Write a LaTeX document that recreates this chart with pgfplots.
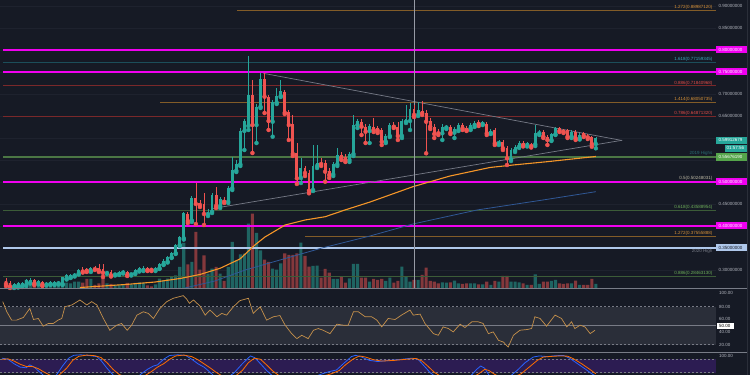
\documentclass[border=0pt]{standalone}
\usepackage{pgfplots}
\usepackage{pgfplotstable}
\pgfplotsset{compat=1.18}
\usepackage{fontspec}
\setmainfont{Liberation Sans}

\definecolor{bg}{RGB}{22,26,37}
\definecolor{gridc}{RGB}{30,34,46}
\definecolor{upc}{RGB}{38,166,154}
\definecolor{dnc}{RGB}{239,83,80}
\definecolor{volup}{RGB}{31,100,98}
\definecolor{voldn}{RGB}{132,56,60}
\definecolor{mag}{RGB}{240,0,240}
\definecolor{trend}{RGB}{118,122,134}
\definecolor{crossc}{RGB}{150,154,165}
\definecolor{fibor}{RGB}{130,92,40}
\definecolor{fiborT}{RGB}{215,145,55}
\definecolor{fibred}{RGB}{122,40,42}
\definecolor{fibredT}{RGB}{225,75,70}
\definecolor{fibteal}{RGB}{28,78,90}
\definecolor{fibtealT}{RGB}{60,170,190}
\definecolor{fibgrn}{RGB}{60,92,56}
\definecolor{fibgrnT}{RGB}{110,175,90}
\definecolor{hi19}{RGB}{75,118,68}
\definecolor{hi19T}{RGB}{40,110,115}
\definecolor{halfT}{RGB}{190,185,165}
\definecolor{lblue}{RGB}{175,200,235}
\definecolor{maor}{RGB}{245,150,40}
\definecolor{mabl}{RGB}{48,88,150}
\definecolor{rsic}{RGB}{198,145,75}
\definecolor{stk}{RGB}{41,98,255}
\definecolor{std}{RGB}{255,109,0}
\definecolor{sep}{RGB}{120,124,135}
\definecolor{bandc}{RGB}{120,123,134}
\definecolor{rsiband}{RGB}{42,46,57}
\definecolor{stband}{RGB}{44,28,82}
\definecolor{axtxt}{RGB}{178,181,190}
\definecolor{boxgrn}{RGB}{85,165,75}
\definecolor{edge}{RGB}{42,46,57}

\pgfplotsset{panel/.style={scale only axis, hide axis, width=716pt,
  xmin=-1.485, xmax=175.74, anchor=south west}}

% up candles: index, open, high, low, close, volume
\pgfplotstableread{
i o h l c v
2 0.2620 0.2705 0.2591 0.2675 3.3
3 0.2636 0.2727 0.2602 0.2698 4.3
4 0.2636 0.2727 0.2614 0.2698 4.3
5 0.2659 0.2795 0.2636 0.2773 8.3
6 0.2711 0.2807 0.2693 0.2773 5.7
8 0.2698 0.2773 0.2670 0.2743 4.3
10 0.2670 0.2727 0.2648 0.2705 3.3
11 0.2682 0.2739 0.2659 0.2716 5
12 0.2682 0.2750 0.2659 0.2720 3.3
13 0.2698 0.2761 0.2670 0.2734 3.3
14 0.2682 0.2852 0.2659 0.2830 8
15 0.2807 0.2898 0.2784 0.2875 5.7
16 0.2841 0.2920 0.2818 0.2886 5
17 0.2875 0.2943 0.2852 0.2920 6.7
18 0.2920 0.3034 0.2898 0.3011 6.7
21 0.2977 0.3068 0.2955 0.3039 9.3
25 0.2932 0.2977 0.2909 0.2955 5
27 0.2898 0.2943 0.2875 0.2920 3.3
28 0.2909 0.2977 0.2886 0.2948 3.3
29 0.2943 0.2989 0.2920 0.2961 3.3
31 0.2902 0.2943 0.2875 0.2916 4
32 0.2925 0.3023 0.2909 0.3000 5.3
33 0.2984 0.3057 0.2966 0.3039 6
34 0.3000 0.3080 0.2977 0.3052 5.3
37 0.3000 0.3068 0.2977 0.3039 4
38 0.3039 0.3159 0.3023 0.3136 9.7
39 0.3130 0.3239 0.3114 0.3211 8
40 0.3189 0.3318 0.3170 0.3289 9.7
41 0.3289 0.3420 0.3273 0.3393 11.3
42 0.3380 0.3591 0.3364 0.3568 13
43 0.3568 0.3773 0.3545 0.3743 21.3
44 0.3720 0.4318 0.3693 0.4289 45.3
46 0.4120 0.4682 0.4091 0.4643 26.3
50 0.4273 0.4386 0.4227 0.4325 14.7
51 0.4325 0.4750 0.4295 0.4705 19.7
53 0.4455 0.4648 0.4409 0.4607 14.7
55 0.4552 0.4909 0.4523 0.4857 21.3
56 0.4857 0.5575 0.4818 0.5273 46.3
57 0.5257 0.5500 0.5227 0.5402 28
58 0.5402 0.6227 0.5364 0.6166 34
59 0.6159 0.6432 0.5727 0.6386 34.7
60 0.6273 0.7864 0.6182 0.6977 64.7
62 0.6295 0.6773 0.5886 0.6711 55.3
63 0.6711 0.7470 0.6682 0.7334 38
66 0.6370 0.6864 0.6030 0.6825 19.7
67 0.6802 0.7136 0.6773 0.6955 18.7
68 0.6955 0.7318 0.6932 0.7068 25
73 0.5091 0.5545 0.4977 0.5318 45.7
76 0.4818 0.5841 0.4795 0.5364 22.3
77 0.5364 0.5841 0.5318 0.5439 22.7
81 0.5175 0.5455 0.5136 0.5402 9.3
82 0.5402 0.5773 0.5364 0.5614 9.3
85 0.5500 0.5682 0.5455 0.5636 10
86 0.5636 0.6523 0.5591 0.6295 24.3
87 0.6295 0.6432 0.6227 0.6386 24.3
90 0.6159 0.6318 0.5886 0.6273 6.7
94 0.5916 0.6091 0.5886 0.6045 7.3
95 0.6045 0.6341 0.6023 0.6295 10.7
98 0.6045 0.6432 0.6000 0.6375 21.7
99 0.6370 0.6750 0.6341 0.6425 11.7
100 0.6386 0.6802 0.6182 0.6652 6.7
102 0.6523 0.6825 0.6500 0.6636 8.3
108 0.6107 0.6318 0.5955 0.6257 6
109 0.6239 0.6295 0.6205 0.6261 5.7
111 0.6120 0.6250 0.6000 0.6198 7.7
112 0.6182 0.6341 0.6159 0.6295 5
115 0.6220 0.6341 0.6182 0.6295 5
116 0.6295 0.6386 0.6250 0.6348 5
118 0.6318 0.6386 0.6295 0.6357 4
120 0.6114 0.6205 0.6091 0.6159 3.3
122 0.5886 0.5955 0.5841 0.5916 6.7
125 0.5516 0.5773 0.5477 0.5727 6.7
126 0.5711 0.5841 0.5682 0.5802 6.7
127 0.5802 0.5932 0.5773 0.5893 6
129 0.5841 0.5909 0.5807 0.5880 3.3
131 0.5857 0.6295 0.5818 0.6107 14
132 0.6107 0.6182 0.6068 0.6143 4.3
135 0.5955 0.6114 0.5932 0.6084 7.3
136 0.6084 0.6250 0.6068 0.6220 8.3
140 0.6030 0.6182 0.6000 0.6143 5
142 0.5993 0.6114 0.5966 0.6068 3.3
146 0.5864 0.6023 0.5766 0.5991 4.3
}\upt

% down candles
\pgfplotstableread{
i o h l c v
0 0.2757 0.2818 0.2636 0.2682 7.3
1 0.2711 0.2750 0.2591 0.2620 5
7 0.2766 0.2795 0.2659 0.2689 5
9 0.2734 0.2761 0.2636 0.2666 4.3
19 0.3011 0.3068 0.2943 0.2966 5.7
20 0.3016 0.3045 0.2955 0.2984 9.3
22 0.3039 0.3080 0.3000 0.3018 3.3
23 0.3045 0.3136 0.2955 0.2984 5
24 0.3016 0.3136 0.2841 0.2939 14.3
26 0.2961 0.2989 0.2852 0.2880 4.3
30 0.2948 0.2977 0.2864 0.2886 5.3
35 0.3039 0.3068 0.2977 0.3000 3
36 0.3016 0.3045 0.2977 0.3005 2
45 0.4273 0.4307 0.4068 0.4114 24
47 0.4643 0.4970 0.4045 0.4500 56.3
48 0.4516 0.4591 0.4432 0.4477 18.7
49 0.4500 0.4757 0.4023 0.4273 33
52 0.4705 0.4893 0.4409 0.4455 21.3
54 0.4591 0.4659 0.4523 0.4552 7.3
61 0.6977 0.7318 0.5659 0.6295 74.7
64 0.7334 0.7470 0.6568 0.6939 28.7
65 0.6939 0.6977 0.6182 0.6386 26.3
69 0.7052 0.7091 0.6545 0.6575 35
70 0.6584 0.6636 0.5955 0.6295 33.3
71 0.6311 0.6523 0.5591 0.5636 33.3
72 0.5652 0.5886 0.4955 0.5084 35
74 0.5318 0.5364 0.5136 0.5205 32.3
75 0.5205 0.5273 0.4743 0.4802 21.7
78 0.5439 0.5545 0.5364 0.5409 10.7
79 0.5425 0.5500 0.5007 0.5234 19.3
80 0.5250 0.5318 0.5091 0.5159 15.7
83 0.5614 0.5682 0.5500 0.5552 11.7
84 0.5575 0.5636 0.5455 0.5500 5.7
88 0.6370 0.6432 0.6068 0.6257 10.7
89 0.6257 0.6318 0.5886 0.6143 10.7
91 0.6257 0.6448 0.6136 0.6182 9.3
92 0.6220 0.6273 0.6114 0.6166 8.3
93 0.6182 0.6227 0.5841 0.5916 9.3
96 0.6295 0.6364 0.6227 0.6257 5.7
97 0.6257 0.6370 0.5955 0.6045 7.3
101 0.6652 0.6750 0.6477 0.6523 8.3
103 0.6620 0.6848 0.6523 0.6561 13.3
104 0.6575 0.6636 0.5652 0.6370 20.7
105 0.6386 0.6455 0.6205 0.6257 7.3
106 0.6257 0.6318 0.6000 0.6091 6.7
107 0.6143 0.6205 0.6068 0.6107 5
110 0.6243 0.6295 0.6091 0.6120 6
113 0.6295 0.6341 0.6182 0.6220 4.3
114 0.6220 0.6273 0.6159 0.6182 5
117 0.6370 0.6409 0.6273 0.6318 4
119 0.6311 0.6364 0.6068 0.6107 6.7
121 0.6182 0.6227 0.5841 0.5880 7.3
123 0.5916 0.5955 0.5727 0.5766 12.3
124 0.5766 0.5818 0.5386 0.5539 12.3
128 0.5880 0.5932 0.5807 0.5841 5
130 0.5841 0.5886 0.5784 0.5818 3.3
133 0.6143 0.6182 0.6000 0.6030 6.7
134 0.6030 0.6068 0.5841 0.5955 6.7
137 0.6220 0.6250 0.6136 0.6166 5
138 0.6182 0.6205 0.6114 0.6143 4.3
139 0.6182 0.6205 0.6000 0.6030 5
141 0.6143 0.6182 0.5955 0.5993 7.7
143 0.6107 0.6136 0.6023 0.6052 3.3
144 0.6052 0.6091 0.5977 0.6016 3.3
145 0.6016 0.6045 0.5802 0.5864 9.3
}\dnt

\tikzset{
  lbl/.style={font=\fontsize{4.5}{5}\selectfont, inner sep=0pt, anchor=west, text=axtxt},
  fl/.style={font=\fontsize{4.5}{5}\selectfont, inner sep=0pt, anchor=base east},
}
\pgfplotsset{
  candle/.style n args={2}{#1, only marks, mark=none, forget plot,
    error bars/.cd, y dir=plus, y explicit, error mark=none,
    error bar style={draw=#1, color=#1, line width=#2, line cap=butt}},
}

\begin{document}
\begin{tikzpicture}[x=1pt,y=1pt]
\useasboundingbox (0,0) rectangle (750,375);
\fill[bg] (0,0) rectangle (750,375);
\begin{scope}
\clip (0,0) rectangle (750,375);

% grid
\begin{axis}[panel, height=288.3pt, at={(0pt,86.7pt)}, ymin=0.25841, ymax=0.91364]
\pgfplotsinvokeforeach{0.30,0.35,0.40,0.45,0.50,0.55,0.60,0.65,0.70,0.75,0.80,0.85,0.90}{
  \addplot[gridc, line width=0.5pt] coordinates {(-1.485,#1) (175.74,#1)};
}
\end{axis}

% volume
\begin{axis}[panel, height=288.3pt, at={(0pt,86.7pt)}, ymin=0, ymax=288.3]
\addplot[ybar, bar width=3.1pt, bar shift=0pt, fill=volup, draw=none] table[x=i,y=v]{\upt};
\addplot[ybar, bar width=3.1pt, bar shift=0pt, fill=voldn, draw=none] table[x=i,y=v]{\dnt};
\end{axis}

% price
\begin{axis}[panel, height=288.3pt, at={(0pt,86.7pt)}, ymin=0.25841, ymax=0.91364]
\addplot[fibor, line width=0.8pt] coordinates {(57.2,0.88987) (175.74,0.88987)};
\addplot[fibteal, line width=1pt] coordinates {(-0.74,0.77159) (175.74,0.77159)};
\addplot[fibred, line width=0.8pt] coordinates {(-0.74,0.71841) (175.74,0.71841)};
\addplot[fibor, line width=0.8pt] coordinates {(38.1,0.68051) (175.74,0.68051)};
\addplot[fibred, line width=0.8pt] coordinates {(-0.74,0.64871) (175.74,0.64871)};
\addplot[hi19, line width=1.2pt] coordinates {(-0.74,0.55676) (175.74,0.55676)};
\addplot[fibgrn, line width=0.8pt] coordinates {(-0.74,0.43589) (175.74,0.43589)};
\addplot[fibor, line width=0.8pt] coordinates {(74,0.37556) (175.74,0.37556)};
\addplot[lblue, line width=1.2pt] coordinates {(-0.74,0.35) (175.74,0.35)};
\addplot[fibgrn, line width=0.8pt] coordinates {(-0.74,0.28463) (175.74,0.28463)};
\addplot[mag, line width=1.8pt] coordinates {(-0.74,0.80) (175.74,0.80)};
\addplot[mag, line width=1.8pt] coordinates {(-0.74,0.75) (175.74,0.75)};
\addplot[mag, line width=1.4pt] coordinates {(-0.74,0.50) (175.74,0.50)};
\addplot[mag, line width=1.4pt] coordinates {(-0.74,0.40) (175.74,0.40)};
\addplot[mabl, line width=0.8pt] coordinates {(44.3,0.2591) (51.7,0.2750) (59.2,0.3000) (67.8,0.3227) (78.2,0.3500) (90.1,0.3773) (100.7,0.4045) (116.6,0.4364) (132.9,0.4591) (146,0.4780)};
\addplot[maor, line width=1.1pt] coordinates {(18.3,0.2602) (29.5,0.2670) (36.9,0.2727) (43.1,0.2807) (48.0,0.2898) (53.0,0.3039) (57.9,0.3250) (61.6,0.3568) (64.1,0.3750) (69.1,0.4023) (74.0,0.4136) (79.0,0.4211) (83.9,0.4364) (90.1,0.4545) (100.7,0.4893) (109.9,0.5136) (119.8,0.5330) (125.5,0.5386) (133.9,0.5461) (146,0.5580)};
\addplot[trend, line width=0.7pt] coordinates {(63.7,0.7470) (152.5,0.5943)};
\addplot[trend, line width=0.7pt] coordinates {(51.2,0.4398) (152.5,0.5948)};
\addplot[crossc, line width=0.6pt] coordinates {(101.1,0.25841) (101.1,0.91364)};
% wicks
\addplot[candle={upc}{0.7pt}] table[x=i, y=l, y error expr={\thisrow{h}-\thisrow{l}}] {\upt};
\addplot[candle={dnc}{0.7pt}] table[x=i, y=l, y error expr={\thisrow{h}-\thisrow{l}}] {\dnt};
% bodies
\addplot[candle={upc}{2.9pt}] table[x=i, y=o, y error expr={\thisrow{c}-\thisrow{o}}] {\upt};
\addplot[candle={dnc}{2.9pt}] table[x=i, y=c, y error expr={\thisrow{o}-\thisrow{c}}] {\dnt};
\end{axis}

% RSI
\begin{axis}[panel, height=64pt, at={(0pt,22.7pt)}, ymin=8, ymax=109.05]
\addplot[fill=rsiband, draw=none] coordinates {(-1.485,20) (175.74,20) (175.74,80) (-1.485,80)} -- cycle;
\addplot[bandc, line width=0.6pt, dash pattern=on 2pt off 2pt] coordinates {(-1.485,80) (175.74,80)};
\addplot[bandc, line width=0.6pt, dash pattern=on 2pt off 2pt] coordinates {(-1.485,20) (175.74,20)};
\addplot[bandc, line width=1.1pt] coordinates {(-1.485,50) (175.74,50)};
\addplot[rsic, line width=0.7pt] coordinates {
(-0.8,88) (0.2,72) (1.4,58.8) (2.6,58.8) (4.3,63) (5.9,77.3) (6.8,59.8) (8.0,61.4) (9.2,49.2) (10.5,53.5) (11.7,53.5) (12.9,58.8) (13.8,61.4) (14.6,80) (16.3,82.7) (18.3,90.6) (20.0,82.7) (21.2,88) (22.5,82.7) (24.1,61.4) (25.7,42.8) (27.4,50.8) (28.6,53.5) (30.0,42.8) (31.1,50.8) (32.4,66.7) (34.0,72) (35.2,69.4) (36.5,61.4) (38.1,77.3) (39.8,88) (41.4,93.3) (43.9,97.5) (44.7,92.2) (45.4,85.3) (46.4,90.6) (48.0,81.1) (49.3,66.7) (50.5,74.7) (52.2,64.1) (53.4,69.4) (54.6,66.7) (56.3,80) (57.9,89.6) (60.0,93.3) (61.2,69.4) (62.9,80) (64.5,58.8) (66.2,64.1) (67.8,66) (69.1,50.8) (70.7,37.5) (72.0,29.6) (73.2,34.9) (74.8,29.6) (76.1,42.8) (77.3,45.5) (78.5,42.8) (80.2,37.5) (81.9,52.4) (83.5,50.8) (84.7,50.8) (86.0,72) (87.2,72) (88.9,64.1) (90.5,64.1) (91.8,58.8) (93.0,48.1) (94.6,61.4) (96.3,59.8) (97.9,66.7) (100.0,74.7) (100.8,66.7) (102.5,68.3) (103.7,53.5) (105.8,37.5) (107.0,34.9) (108.2,48.1) (109.5,45.5) (110.7,40.2) (112.4,52.4) (113.6,47.1) (115.3,56.1) (116.9,56.1) (118.1,53.5) (119.4,37.5) (120.6,40.2) (121.9,26.9) (123.1,24.2) (124.3,16.3) (125.6,34.9) (127.2,42.8) (128.9,43.9) (130.1,45.5) (130.9,64.1) (132.2,61.4) (133.8,49.2) (135.9,66.7) (137.5,61.4) (138.8,48.1) (140.0,56.1) (140.8,45.5) (142.1,50.8) (143.3,48.1) (144.6,37.5) (145.8,42.8)};
\end{axis}

% Stoch RSI
\begin{axis}[panel, height=22.7pt, at={(0pt,0pt)}, ymin=9.7, ymax=111.3]
\addplot[fill=stband, draw=none] coordinates {(-1.485,20) (175.74,20) (175.74,80) (-1.485,80)} -- cycle;
\addplot[bandc, line width=0.6pt, dash pattern=on 2pt off 2pt] coordinates {(-1.485,80) (175.74,80)};
\addplot[bandc, line width=0.6pt, dash pattern=on 2pt off 2pt] coordinates {(-1.485,20) (175.74,20)};
\addplot[stk, line width=0.8pt] coordinates {
(-1,85) (0.5,80) (2,60) (3.5,45) (5,42) (5.9,55) (7,45) (8.5,20) (9.5,5) (10.5,0) (11.7,0) (12.5,10) (14,50) (15.5,85) (16.8,98) (18.5,100) (20.5,97) (22.5,92) (23.5,75) (25,40) (26.5,10) (27.5,0) (32.5,0) (33.5,15) (35,35) (36.5,50) (37.5,55) (39,80) (40.5,97) (42.5,100) (44.5,97) (46,80) (47.5,60) (49,45) (50,30) (51.5,5) (52.5,0) (55,0) (56.5,20) (58.5,60) (60.5,95) (61.5,88) (63,60) (64.5,30) (66,5) (67,0) (76,0) (77.5,10) (80,25) (81.8,32) (83.5,60) (85.5,92) (86.5,98) (88,90) (90,75) (92,70) (95,75) (98,80) (100.5,85) (102,80) (103.5,50) (105,20) (106.5,0) (112,0) (115,5) (116.5,35) (117.5,50) (118.5,40) (119.5,10) (120.5,0) (124.5,0) (126.5,30) (128.5,65) (130.5,90) (132,95) (134,92) (136,96) (138,97) (139.5,85) (141.5,60) (143.5,35) (145,15) (146,5)};
\addplot[std, line width=0.8pt] coordinates {
(-1,80) (0.5,82) (2,72) (3.5,58) (5,48) (6.5,48) (8,38) (9.5,22) (11,8) (12.5,2) (13.5,15) (15,40) (16.5,75) (18,93) (20,99) (22,96) (23.5,88) (25,65) (26.5,35) (28,12) (29.5,2) (33,0) (34.5,8) (36,25) (37.5,45) (39,60) (40.5,80) (42,95) (44,99) (46,92) (47.5,78) (49,60) (50.5,42) (52,22) (53.5,5) (55.5,0) (57,8) (58.5,30) (60,65) (61.5,85) (63,80) (64.5,55) (66,28) (67.5,8) (69,0) (77,0) (78.5,5) (80.5,15) (82.5,30) (84,55) (86,82) (87.5,95) (89,90) (91,78) (93,72) (96,75) (99,80) (101.5,84) (103,72) (104.5,48) (106,22) (107.5,5) (109,0) (115.5,0) (117,15) (118.5,35) (119.5,30) (121,12) (122.5,0) (125.5,0) (127.5,15) (129.5,45) (131.5,75) (133,90) (135,93) (137,95) (139,94) (140.5,82) (142.5,60) (144.5,35) (146,15)};
\end{axis}
\end{scope}

% panel separators and right edge
\draw[sep, line width=0.7pt] (0,86.7) -- (748,86.7);
\draw[sep, line width=0.7pt] (0,22.7) -- (748,22.7);
\draw[edge, line width=0.8pt] (747.6,0) -- (747.6,375);

% fib and level captions
\node[fl, text=fiborT] at (712.5,366.3) {1.272(0.88987120)};
\node[fl, text=fibtealT] at (712.5,314.3) {1.618(0.77159345)};
\node[fl, text=fibredT] at (712.5,290.9) {0.886(0.71840968)};
\node[fl, text=fiborT] at (712.5,274.2) {1.414(0.68050735)};
\node[fl, text=fibredT] at (712.5,260.2) {0.786(0.64871320)};
\node[fl, text=hi19T] at (712.5,220.1) {2019 Highs};
\node[fl, text=halfT] at (712.5,195.6) {0.5(0.50248031)};
\node[fl, text=fibgrnT] at (712.5,166.6) {0.618(0.43588954)};
\node[fl, text=fiborT] at (712.5,140.0) {1.272(0.37555888)};
\node[fl, text=sep, anchor=north east] at (712.5,125.6) {2020 High};
\node[fl, text=fibgrnT] at (712.5,100.0) {0.886(0.28463130)};

% price scale
\node[lbl] at (718.5,369) {0.90000000};
\node[lbl] at (718.5,347) {0.85000000};
\fill[mag] (716,321.5) rectangle (747,328.5); \node[lbl, text=white] at (718.5,325) {0.80000000};
\fill[mag] (716,299.5) rectangle (747,306.5); \node[lbl, text=white] at (718.5,303) {0.75000000};
\node[lbl] at (718.5,281) {0.70000000};
\node[lbl] at (718.5,259) {0.65000000};
\fill[upc] (716,231) rectangle (747,238.4); \node[lbl, text=white] at (718.5,234.7) {0.59912679};
\fill[upc] (725,223.3) rectangle (747,230); \node[lbl, text=white] at (726.5,226.7) {01:57:56};
\fill[boxgrn] (716,214.3) rectangle (747,221.7); \node[lbl, text=white] at (718.5,218) {0.55676190};
\fill[mag] (716,189.8) rectangle (747,196.8); \node[lbl, text=white] at (718.5,193.3) {0.50000000};
\node[lbl] at (718.5,171) {0.45000000};
\fill[mag] (716,145.5) rectangle (747,152.5); \node[lbl, text=white] at (718.5,149) {0.40000000};
\fill[lblue] (716,123.9) rectangle (747,130.5); \node[lbl, text=bg] at (718.5,127.2) {0.35000000};
\node[lbl] at (718.5,105) {0.30000000};
% RSI scale
\node[lbl] at (719,81.7) {100.00};
\node[lbl] at (719,68.3) {80.00};
\node[lbl] at (719,56) {60.00};
\fill[white] (716.5,45.7) rectangle (734.3,52.3); \node[lbl, text=black] at (719,49) {50.00};
\node[lbl] at (719,43) {40.00};
\node[lbl] at (719,30.3) {20.00};
% Stoch scale
\node[lbl] at (719,19.3) {100.00};
\end{tikzpicture}
\end{document}
